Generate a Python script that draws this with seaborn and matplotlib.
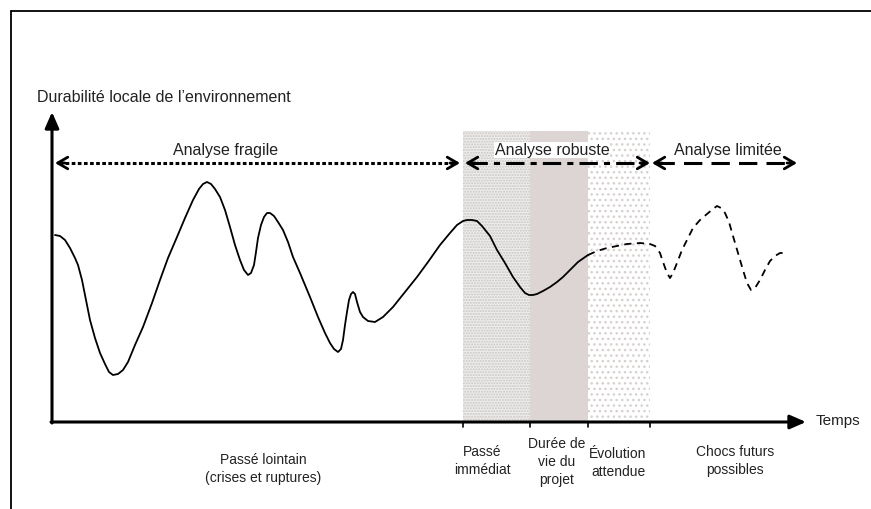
import numpy as np
import pandas as pd
import matplotlib
matplotlib.use("Agg")
import matplotlib.pyplot as plt
import seaborn as sns

sns.set_theme(style="white")
plt.rcParams['font.family'] = ['Liberation Sans', 'DejaVu Sans']

# ---- data (time position, durability height; drawing units) ----
past_t = [55, 60, 65, 70, 75, 78, 82, 86, 90, 95,
          100, 105, 109, 113, 118, 123, 128, 135, 143, 152,
          160, 168, 177, 185, 193, 199, 203, 207, 211, 215,
          220, 225, 230, 235, 240, 244, 248, 251, 254, 256,
          258, 261, 264, 267, 270, 274, 278, 283, 288, 293,
          300, 310, 318, 325, 330, 334, 338, 341, 343, 345,
          347, 349, 351, 353, 355, 357, 360, 363, 368, 375,
          383, 393, 405, 417, 428, 440, 450, 457, 463, 467,
          472, 477, 482, 490, 497, 505, 513, 520, 525, 529,
          533, 537, 543, 550, 557, 563, 570, 578, 588]
past_v = [187, 186, 182, 174, 164, 157, 142, 122, 102, 84,
          69, 58, 50, 47, 48, 52, 60, 77, 95, 119,
          142, 164, 185, 204, 222, 233, 238, 240, 238, 233,
          225, 212, 195, 177, 162, 152, 147, 149, 157, 170,
          184, 197, 205, 209, 209, 206, 200, 192, 180, 165,
          149, 125, 105, 89, 79, 73, 70, 73, 82, 97,
          110, 122, 128, 130, 128, 120, 110, 105, 101, 100,
          105, 115, 130, 145, 160, 177, 189, 197, 201, 202,
          202, 201, 196, 186, 172, 159, 145, 135, 129, 127,
          127, 128, 131, 135, 140, 145, 152, 160, 167]
future_t = [588, 597, 607, 617, 627, 640, 650, 655, 660, 663, 667, 670, 673, 677,
            682, 687, 693, 700, 707, 713, 717, 721, 725, 729, 733, 738, 743, 747,
            751, 755, 760, 765, 770, 775, 780, 787]
future_v = [167, 171, 174, 176, 178, 179, 178, 176, 169, 160, 149, 144, 149, 159,
            172, 182, 194, 202, 208, 213, 216, 214, 209, 200, 186, 169, 152, 139,
            132, 134, 142, 152, 161, 166, 169, 169]

periods = ["Passé lointain\n(crises et ruptures)", "Passé\nimmédiat",
           "Durée de\nvie du\nprojet", "Évolution\nattendue", "Chocs futurs\npossibles"]
period_bounds = [55, 463, 530, 588, 650, 790]
analyses = ["Analyse fragile", "Analyse robuste", "Analyse limitée"]
analysis_bounds = [(55, 460), (465, 650), (652, 797)]
analysis_label_x = [226, 552, 728]

# ---- figure ----
W, H = 871, 509
fig = plt.figure(figsize=(W / 100, H / 100), dpi=100)
ax = fig.add_axes([0, 0, 1, 1])
AX0_X, AX0_Y = 52, 422  # origin in pixels
ax.set_xlim(-AX0_X, W - AX0_X)
ax.set_ylim(-(H - AX0_Y), AX0_Y)
ax.axis("off")

def tx(t):
    return np.asarray(t, dtype=float) - AX0_X

# frame (top + left)
ax.plot([tx(11), tx(W + 5)], [AX0_Y - 11, AX0_Y - 11], color="black", lw=1.3)
ax.plot([tx(11), tx(11)], [AX0_Y - 11, -(H - AX0_Y) - 5], color="black", lw=1.3)

# shaded periods
ymin, ymax = (H - AX0_Y) / H, (H - 131) / H
ax.axvspan(tx(463), tx(530), ymin=ymin, ymax=ymax,
           facecolor="#eeedeb", edgecolor="#c9c6c4", hatch="......", lw=0, zorder=0)
ax.axvspan(tx(530), tx(588), ymin=ymin, ymax=ymax,
           facecolor="#dcd5d3", lw=0, zorder=0)
ax.axvspan(tx(588), tx(650), ymin=ymin, ymax=ymax,
           facecolor="white", edgecolor="#d6d0ce", hatch="...", lw=0, zorder=0)

# axes with arrows
ax.annotate("", xy=(0, AX0_Y - 112), xytext=(0, -1),
            arrowprops=dict(arrowstyle="-|>,head_length=0.8,head_width=0.35",
                            color="black", lw=2.2, shrinkA=0, shrinkB=0))
ax.annotate("", xy=(tx(806), 0), xytext=(-1, 0),
            arrowprops=dict(arrowstyle="-|>,head_length=0.8,head_width=0.35",
                            color="black", lw=2.2, shrinkA=0, shrinkB=0))
for b in period_bounds[1:5]:
    ax.plot([tx(b), tx(b)], [0, -5], color="black", lw=1.2)

# curve
df_past = pd.DataFrame({"t": tx(past_t), "v": past_v})
df_fut = pd.DataFrame({"t": tx(future_t), "v": future_v})
sns.lineplot(data=df_past, x="t", y="v", color="black", lw=1.3, ax=ax,
             sort=False, estimator=None)
sns.lineplot(data=df_fut, x="t", y="v", color="black", lw=1.3, ax=ax,
             sort=False, estimator=None, linestyle=(0, (4, 3)))
ax.set_xlabel("")
ax.set_ylabel("")

# analysis arrows
arrow_y = AX0_Y - 163
styles = [(0, (1.2, 0.8)), (0, (6, 2, 2, 2)), (0, (6, 3))]
for (a, b), name, ls, lx in zip(analysis_bounds, analyses, styles, analysis_label_x):
    ax.plot([tx(a + 4), tx(b - 4)], [arrow_y, arrow_y], color="black", lw=2.2,
            linestyle=ls, solid_capstyle="butt")
    for end, start in ((a, a + 10), (b, b - 10)):
        ax.annotate("", xy=(tx(end), arrow_y), xytext=(tx(start), arrow_y),
                    arrowprops=dict(arrowstyle="->,head_length=0.6,head_width=0.35",
                                    color="black", lw=2.0, shrinkA=0, shrinkB=0))
    ax.text(tx(lx), arrow_y + 13, name, ha="center", va="center",
            fontsize=11.5, color="#222222",
            bbox=dict(facecolor="white", edgecolor="none", pad=0.5) if name == "Analyse robuste" else None)

# labels
ax.text(tx(37), AX0_Y - 97, "Durabilité locale de l\u2019environnement", ha="left",
        va="center", fontsize=11.5, color="#222222")
ax.text(tx(816), 1, "Temps", ha="left", va="center", fontsize=11, color="#222222")

label_x = [263, 482, 557, 618, 735]
label_y = [469, 461, 462, 463, 461]
for name, x, y in zip(periods, label_x, label_y):
    ax.text(tx(x), AX0_Y - y, name, ha="center", va="center", fontsize=10,
            color="#222222", linespacing=1.4)

fig.savefig("out.png", dpi=100)
